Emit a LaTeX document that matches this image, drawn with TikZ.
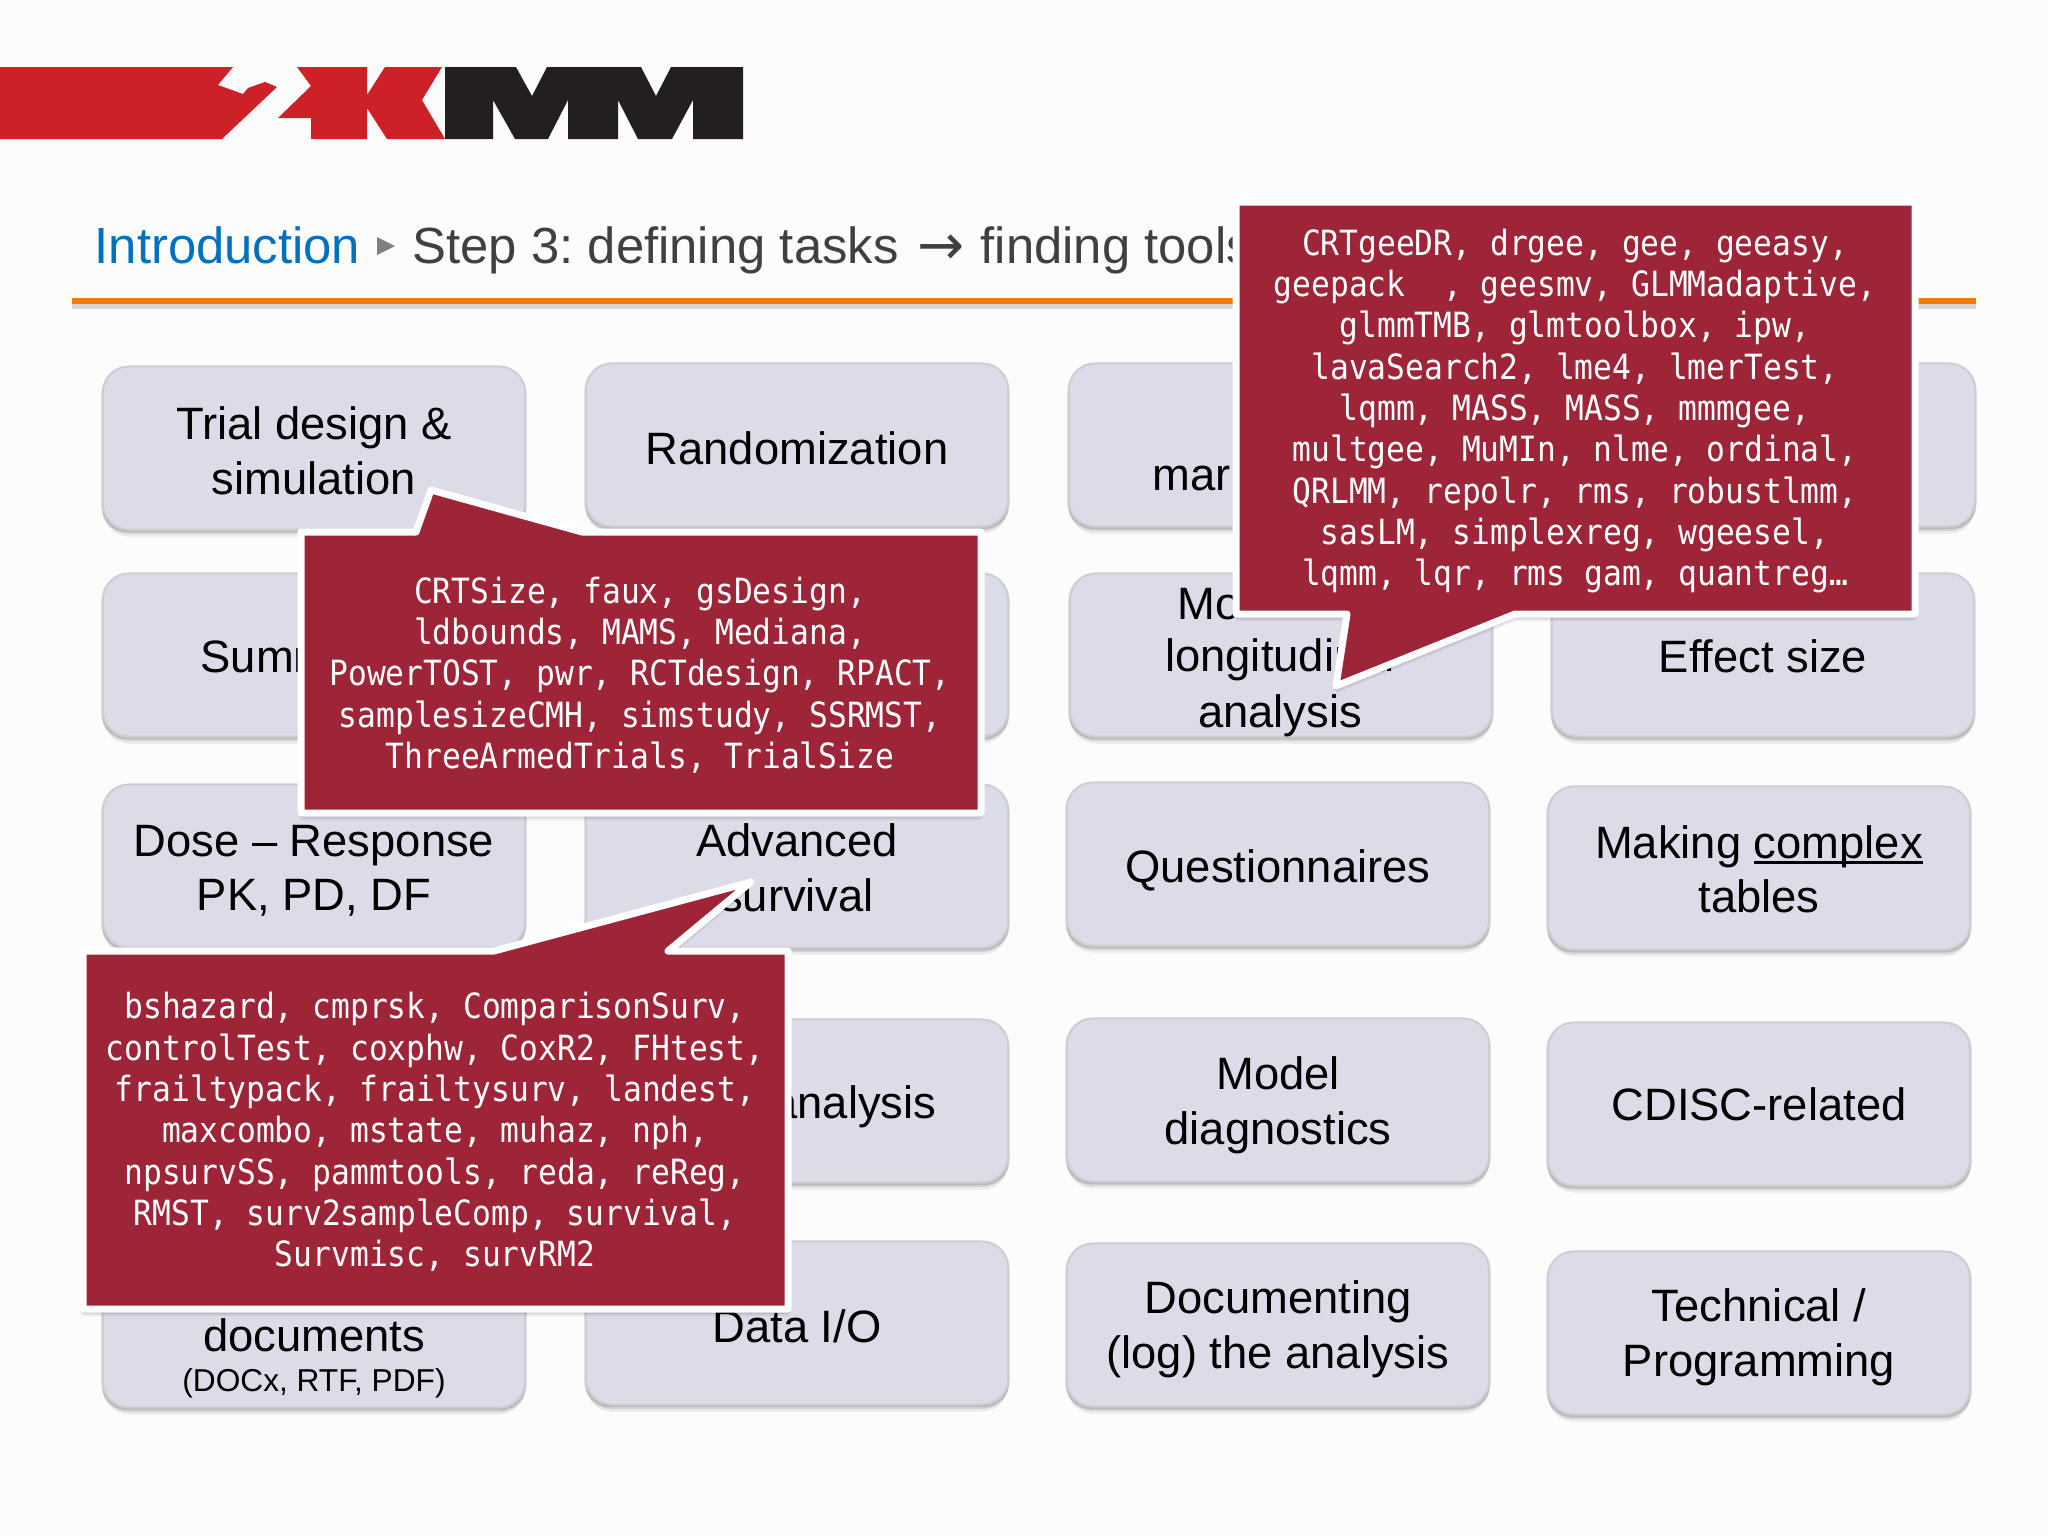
\documentclass[tikz,border=0pt]{standalone}
\usepackage{fontspec}
\setmainfont{Liberation Sans}
\setmonofont[FakeStretch=0.9]{DejaVu Sans Mono}
\newfontfamily\arrowfont{DejaVu Sans}
\usetikzlibrary{shadows}
\definecolor{boxfill}{HTML}{DCDBE8}
\definecolor{boxline}{HTML}{CDCDD3}
\definecolor{notered}{HTML}{9D2537}
\definecolor{logored}{HTML}{CD2027}
\definecolor{logoblack}{HTML}{231F20}
\definecolor{titleblue}{HTML}{0070C0}
\definecolor{titlegrey}{HTML}{404040}
\definecolor{ruleorange}{HTML}{EC7F12}
\definecolor{paper}{HTML}{FCFCFD}
\newcommand{\dropline}[1]{\rule{0pt}{\dimexpr 9.5pt+#1\relax}}
\newcommand{\ulword}[1]{\setbox0=\hbox{#1}\rlap{\rule[-1.5pt]{\wd0}{0.7pt}}\box0}
\tikzset{
  softshadow/.style={
    drop shadow={shadow xshift=0cm,shadow yshift=-0.02cm,shadow scale=1.008,opacity=.1,fill=black},
    drop shadow={shadow xshift=0cm,shadow yshift=-0.04cm,shadow scale=1.004,opacity=.1,fill=black},
    drop shadow={shadow xshift=0cm,shadow yshift=-0.07cm,shadow scale=1,opacity=.07,fill=black}},
  taskbox/.style={draw=boxline,fill=boxfill,line width=0.02cm,rounded corners=0.26cm,
    minimum width=4.22cm,minimum height=1.63cm,align=center,inner sep=0pt,
    font=\fontsize{12.9}{15.5}\selectfont,softshadow},
  tasktext/.style={inner sep=0pt,align=center,font=\fontsize{12.9}{15.5}\selectfont},
  titletext/.style={inner sep=0pt,anchor=base west,font=\fontsize{14.45}{17}\selectfont},
  noteshape/.style={draw=white,fill=notered,line width=0.07cm,line join=round,softshadow},
  notetext/.style={inner sep=0pt,align=center,text=white,
    font=\ttfamily\fontsize{9.88}{11.75}\selectfont}
}
\frenchspacing
\begin{document}
\begin{tikzpicture}[x=0.01cm,y=-0.01cm]
  \useasboundingbox (0,0) rectangle (2048,1536);
  \fill[paper] (0,0) rectangle (2048,1536);

  \fill[logored] (0,67) -- (233,67) -- (218,85) -- (243,94) -- (248,88) -- (265,82) -- (277,87) -- (222,139) -- (0,139) -- cycle;
  \fill[logored] (297,67) -- (367,67) -- (367,95) -- (385,67) -- (442,67) -- (422,100) -- (445,139) -- (387,139) -- (367,108) -- (367,139) -- (311,139) -- (311,118) -- (278,118) -- (311,86) -- cycle;
  \fill[logoblack] (445,67) -- (516,67) -- (532,96) -- (547,67) -- (641,67) -- (656,96) -- (671,67) -- (743,67) -- (743,139) -- (693,139) -- (693,100) -- (672,139) -- (638,139) -- (618,100) -- (618,139) -- (568,139) -- (568,100) -- (548,139) -- (515,139) -- (493,100) -- (493,139) -- (445,139) -- cycle;

  \node[titletext,text=titleblue] (intro) at (94,263) {Introduction};
  \fill[gray] (377,237) -- (395,246) -- (377,255) -- cycle;
  \node[titletext,text=titlegrey] (step) at (412,263) {Step 3: defining tasks};
  \node[titletext,text=titlegrey,font=\arrowfont\fontsize{16}{17}\selectfont] (stepto) at (917,264) {→};
  \node[titletext,text=titlegrey] (tools) at (980,263) {finding tools};
  \fill[black!17] (72,304) rectangle (1976,309);
  \fill[ruleorange] (72,298) rectangle (1976,304);

  \node[taskbox] (trial) at (314,448) {\dropline{1.5pt}Trial design \&\\simulation};
  \node[taskbox] (random) at (797,445) {\dropline{1.5pt}Randomization};
  \node[taskbox] (margin) at (1280,445) {};
  \node[taskbox] (hidden) at (1764,445) {};
  \node[taskbox] (summ) at (314,655) {};
  \node[taskbox] (middle) at (797,655) {};
  \node[taskbox] (longi) at (1281,655) {};
  \node[taskbox] (effect) at (1763,655) {\dropline{.7pt}Effect size};
  \node[taskbox] (dose) at (314,866) {\dropline{2pt}Dose – Response\\PK, PD, DF};
  \node[taskbox] (advsurv) at (797,866) {\dropline{.8pt}Advanced\\survival};
  \node[taskbox] (quest) at (1278,864) {\dropline{3.7pt}Questionnaires};
  \node[taskbox] (tables) at (1759,868) {\dropline{.7pt}Making \ulword{complex}\\tables};
  \node[taskbox] (analysis) at (797,1101) {};
  \node[taskbox] (diag) at (1278,1100) {\dropline{2.8pt}Model\\diagnostics};
  \node[taskbox] (cdisc) at (1759,1104) {CDISC-related};
  \node[taskbox] (docs) at (314,1326) {};
  \node[taskbox] (dataio) at (797,1323) {\dropline{1.5pt}Data I/O};
  \node[taskbox] (logdoc) at (1278,1325) {\dropline{2.2pt}Documenting\\(log) the analysis};
  \node[taskbox] (tech) at (1759,1333) {\dropline{2.2pt}Technical /\\Programming};

  \node[tasktext,anchor=west] (margintext) at (1152,479) {mar};
  \node[tasktext,anchor=west] (summtext) at (200,657) {Summ};
  \node[tasktext,anchor=west] (longitext) at (1177,604) {Mo};
  \node[tasktext] (longitext2) at (1280,660) {longitudinal};
  \node[tasktext] (longitext3) at (1280,716) {analysis};
  \node[tasktext,anchor=east] (analysistext) at (937,1107) {analysis};
  \node[tasktext] (docstext) at (314,1335) {documents};
  \node[tasktext,font=\fontsize{9}{10}\selectfont] (docssub) at (314,1383) {(DOCx, RTF, PDF)};

  \draw[noteshape] (301,532) -- (416,532) -- (431,490) -- (582,532) -- (981,532) -- (981,813) -- (301,813) -- cycle;
  \node[notetext] (designnote) at (640,675) {CRTSize, faux, gsDesign,\\ldbounds, MAMS, Mediana,\\PowerTOST, pwr, RCTdesign, RPACT,\\samplesizeCMH, simstudy, SSRMST,\\ThreeArmedTrials, TrialSize};

  \draw[noteshape] (1236,202) -- (1915,202) -- (1915,614) -- (1515,614) -- (1336,686) -- (1347,614) -- (1236,614) -- cycle;
  \node[notetext] (modelnote) at (1575,411) {CRTgeeDR, drgee, gee, geeasy,\\geepack\ \ , geesmv, GLMMadaptive,\\glmmTMB, glmtoolbox, ipw,\\lavaSearch2, lme4, lmerTest,\\lqmm, MASS, MASS, mmmgee,\\multgee, MuMIn, nlme, ordinal,\\QRLMM, repolr, rms, robustlmm,\\sasLM, simplexreg, wgeesel,\\lqmm, lqr, rms gam, quantreg…};

  \draw[noteshape] (83,951) -- (494,951) -- (751,882) -- (668,951) -- (788,951) -- (788,1309) -- (83,1309) -- cycle;
  \node[notetext] (survnote) at (435,1132) {bshazard, cmprsk, ComparisonSurv,\\controlTest, coxphw, CoxR2, FHtest,\\frailtypack, frailtysurv, landest,\\maxcombo, mstate, muhaz, nph,\\npsurvSS, pammtools, reda, reReg,\\RMST, surv2sampleComp, survival,\\Survmisc, survRM2};
\end{tikzpicture}
\end{document}
